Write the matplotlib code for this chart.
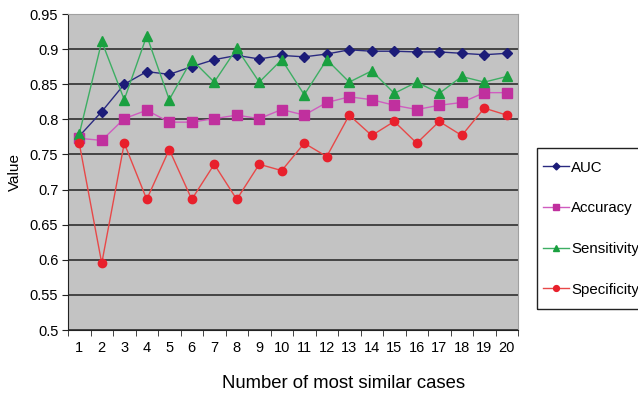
import numpy as np
import matplotlib as mpl
import matplotlib.pyplot as plt
from matplotlib.patches import Rectangle

mpl.rcParams["font.family"] = "Liberation Sans"

CASES = list(range(1, 21))
AUC = [0.776, 0.811, 0.850, 0.868, 0.864, 0.875, 0.885, 0.891, 0.886, 0.891,
       0.889, 0.893, 0.899, 0.897, 0.897, 0.896, 0.896, 0.894, 0.892, 0.894]
ACC = [0.773, 0.770, 0.801, 0.813, 0.796, 0.796, 0.801, 0.806, 0.801, 0.814,
       0.806, 0.824, 0.832, 0.828, 0.820, 0.814, 0.820, 0.824, 0.838, 0.838]
SENS = [0.779, 0.911, 0.828, 0.919, 0.828, 0.885, 0.853, 0.901, 0.853, 0.885,
        0.835, 0.885, 0.853, 0.869, 0.837, 0.853, 0.837, 0.861, 0.853, 0.861]
SPEC = [0.766, 0.595, 0.766, 0.686, 0.757, 0.686, 0.736, 0.686, 0.736, 0.727,
        0.766, 0.747, 0.806, 0.777, 0.797, 0.766, 0.797, 0.777, 0.816, 0.806]
YTICKS = [0.5, 0.55, 0.6, 0.65, 0.7, 0.75, 0.8, 0.85, 0.9, 0.95]

SERIES = [
    ("AUC", AUC, "#2A2A80", "#1C1C78", "D", 5),
    ("Accuracy", ACC, "#D05CC0", "#C0309E", "s", 7),
    ("Sensitivity", SENS, "#3DAE63", "#1AA040", "^", 7),
    ("Specificity", SPEC, "#E84848", "#E8202C", "o", 6),
]

W, H = 638, 398
fig = plt.figure(figsize=(W / 100, H / 100), dpi=100)
ax = fig.add_axes([68 / W, 1 - 330 / H, 450 / W, 316 / H])
ax.set_facecolor("#C3C3C3")

for name, vals, lc, mc, mk, ms in SERIES:
    ax.plot(CASES, vals, color=lc, lw=1.0, marker=mk, ms=ms,
            mfc=mc, mec=mc, label=name, zorder=3)

ax.set_ylim(0.5, 0.95)
ax.set_yticks(YTICKS)
ax.set_yticklabels([f"{v:g}" for v in YTICKS], fontsize=10.5)
ax.yaxis.grid(True, color="#222222", lw=1.1, zorder=1)
ax.set_axisbelow(True)

ax.set_xlim(0.5, 20.5)
ax.set_xticks(CASES)
ax.set_xticklabels([str(c) for c in CASES], fontsize=10.5)
ax.set_xticks(np.arange(0.5, 21, 1), minor=True)
ax.tick_params(axis="x", which="major", length=0, pad=8)
ax.tick_params(axis="x", which="minor", length=4, color="#222222")
ax.tick_params(axis="y", length=4, color="#222222", pad=3)

for s in ["top", "right"]:
    ax.spines[s].set_color("#A0A0A0")
for s in ["left", "bottom"]:
    ax.spines[s].set_color("#222222")

ax.set_xlabel("Number of most similar cases", fontsize=13.3)
ax.xaxis.set_label_coords((344 - 68) / 450, -(383 - 330) / 316, transform=ax.transAxes)
ax.xaxis.label.set_va("center")
ax.set_ylabel("Value", fontsize=11, labelpad=6)

# 图例框比内容宽，右侧被图边裁掉，单独画框
fig.patches.append(Rectangle((536.7 / W, 1 - 309 / H), (650 - 536.7) / W, (309 - 148.3) / H,
                             transform=fig.transFigure, fill=False,
                             edgecolor="#222222", lw=1.0, clip_on=False))
leg = fig.legend(loc="upper left", bbox_to_anchor=(536.7 / W, 1 - 154.5 / H),
                 frameon=False, fontsize=10.8, labelspacing=1.78,
                 handlelength=1.75, handletextpad=0.15, borderpad=0.4,
                 markerscale=0.7, borderaxespad=0)

fig.savefig("out.png", dpi=100)
